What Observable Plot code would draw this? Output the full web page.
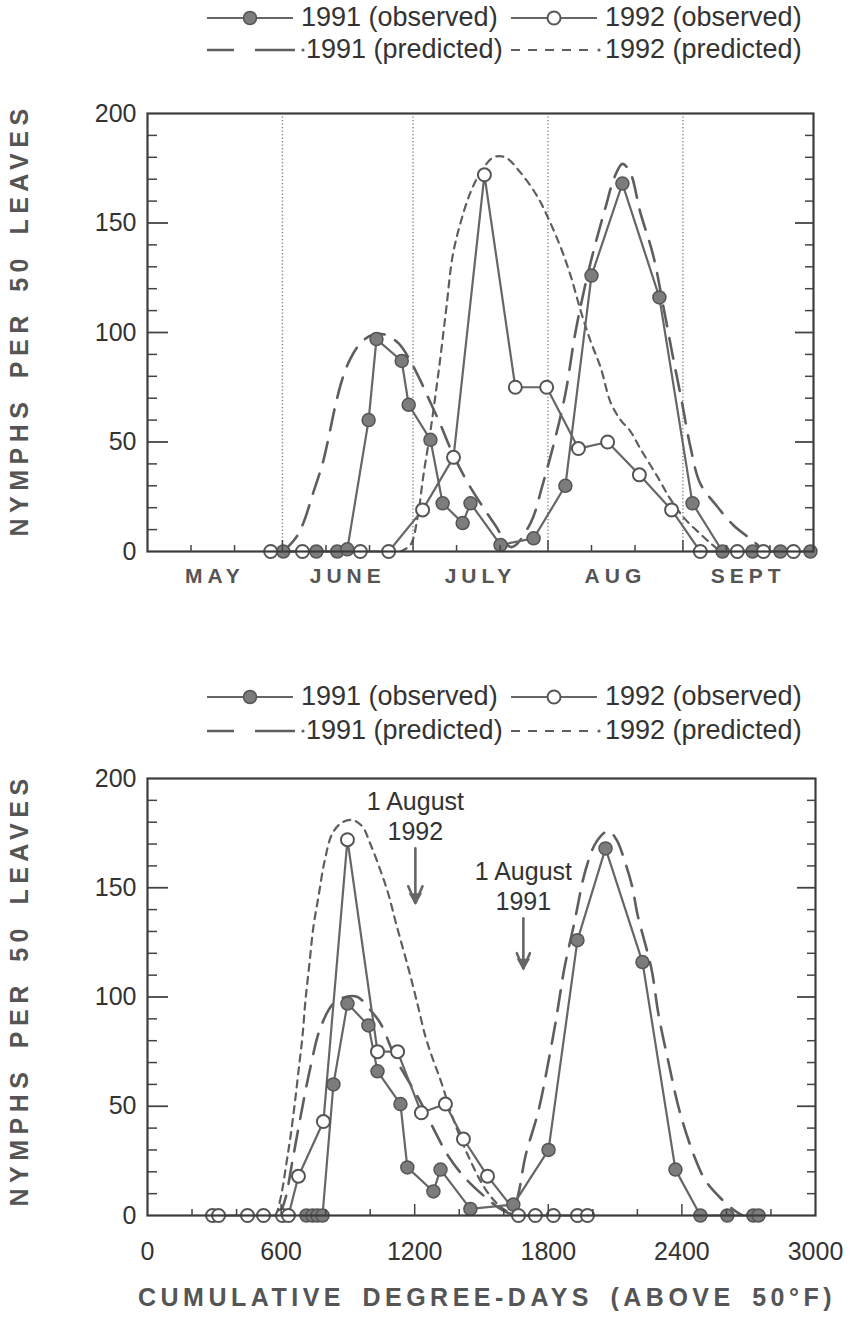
<!DOCTYPE html>
<html><head><meta charset="utf-8">
<script src="https://cdn.jsdelivr.net/npm/d3@7"></script>
<script src="https://cdn.jsdelivr.net/npm/@observablehq/plot@0.6"></script>
<style>
body{margin:0;background:#fff;font-family:"Liberation Sans",Arial,sans-serif;}
#wrap{position:relative;width:860px;height:1319px;overflow:hidden;background:#fff;}
.lg{position:absolute;font-size:27px;color:#333;white-space:nowrap;line-height:27px;}
#wrap svg.chart{position:absolute;left:0;}
.ytitle{position:absolute;white-space:nowrap;font-weight:bold;font-size:25px;color:#555;letter-spacing:5.5px;word-spacing:6px;transform:translate(-50%,-50%) rotate(-90deg);line-height:25px;}
.xtitle{position:absolute;white-space:nowrap;font-weight:bold;font-size:25px;color:#555;letter-spacing:4.5px;word-spacing:6px;transform:translate(-50%,-50%);line-height:25px;}
</style></head><body><div id="wrap"></div>
<script>
// ---------- tick labels / categories ----------
const months = ["MAY", "JUNE", "JULY", "AUG", "SEPT"];
const monthStartDays = [0, 31, 61, 92, 123, 153];          // days after 1 May
const dayTicks = [10, 20, 41, 51, 71, 81, 102, 112, 133, 143]; // 11th and 21st of each month
const yTickLabels = [0, 50, 100, 150, 200];
const ddTickLabels = [0, 600, 1200, 1800, 2400, 3000];
const ddMinorTicks = [200, 400, 800, 1000, 1400, 1600, 2000, 2200, 2600, 2800];
const seriesNames = ["1991 (observed)", "1992 (observed)", "1991 (predicted)", "1992 (predicted)"];

// ---------- top panel: calendar date (days after 1 May) ----------
const cal91Day = [31.2,38.8,43.6,45.9,50.8,52.6,58.4,60.0,65.0,67.8,72.4,74.2,81.1,88.7,96.0,102.0,109.1,117.6,125.2,132.1,139.0,145.4,152.3];
const cal91Obs = [0,0,0,1,60,97,87,67,51,22,13,22,3,6,30,126,168,116,22,0,0,0,0];
const cal92Day = [28.3,35.6,48.9,55.4,63.2,70.3,77.4,84.5,91.7,99.0,105.7,113.0,120.4,127.0,135.5,141.5,148.4];
const cal92Obs = [0,0,0,0,19,43,172,75,75,47,50,35,19,0,0,0,0];
const cal91PredDay = [31.2,34.0,35.8,38.1,40.2,41.6,43.2,44.8,46.6,48.9,51.7,54.7,57.7,60.4,62.7,65.0,67.3,69.6,73.1,76.5,79.9,83.6,88.0,90.7,93.7,96.0,98.3,100.6,102.7,105.2,107.3,109.1,110.9,113.2,116.2,118.5,120.6,122.7,124.7,127.0,130.7,134.6,139.0,141.3];
const cal91Pred = [0,6,13,27,40,52,67,79,88,95,99,99,95,87,78,68,58,47,33,22,12,2,13,30,52,72,100,122,139,157,171,177,173,155,135,112,90,69,48,31,21,12,5,1];
const cal92PredDay = [58.1,60.4,62.0,63.4,65.0,66.4,67.5,68.7,70.1,71.9,74.2,76.5,79.5,82.2,85.7,89.6,92.1,94.9,97.2,99.5,101.8,104.1,106.4,108.7,110.9,113.2,117.2,120.1,123.4,127.0,129.8,131.6];
const cal92Pred = [0,3,15,35,55,75,92,112,135,150,164,173,180,180,173,162,152,139,126,110,96,84,68,60,55,47,34,24,15,8,3,0];

// ---------- bottom panel: cumulative degree-days ----------
const dd91 = [714,741,763,786,835,898,992,1033,1136,1167,1284,1316,1450,1643,1801,1931,2057,2223,2371,2483,2604,2721,2744];
const dd91Obs = [0,0,0,0,60,97,87,66,51,22,11,21,3,5,30,126,168,116,21,0,0,0,0];
const dd92 = [292,319,449,521,606,633,678,790,898,1033,1123,1230,1338,1419,1527,1666,1742,1823,1931,1976];
const dd92Obs = [0,0,0,0,0,0,18,43,172,75,75,47,51,35,18,0,0,0,0,0];
const dd91PredDD = [593,620,651,687,732,777,835,889,943,1001,1046,1114,1181,1226,1293,1352,1428,1522,1585,1639,1666,1697,1756,1796,1837,1872,1917,1967,2016,2070,2106,2147,2178,2200,2263,2295,2340,2389,2456,2506,2573,2640,2672];
const dd91Pred = [0,8,25,45,68,86,97,100,100,94,88,72,60,52,38,27,17,8,3,1,10,27,48,68,91,113,134,158,171,176,172,161,150,138,113,92,70,48,27,16,8,2,0];
const dd92PredDD = [579,602,624,642,660,678,696,709,727,745,768,795,831,876,921,965,1001,1046,1082,1118,1172,1212,1248,1280,1316,1370,1437,1518,1585,1652];
const dd92Pred = [0,10,24,36,50,66,82,98,115,132,146,162,175,180,181,178,170,158,147,133,113,97,82,72,62,45,28,12,4,0];

// 1 August in degree-days for each year, with annotation text
const augustDD = [1203, 1688];
const augustText = ["1 August\n1992", "1 August\n1991"];
const augustTextY = [183, 151];
const augustArrowY1 = [168, 136];
const augustArrowY2 = [143, 113];

const yTitle = "NYMPHS PER 50 LEAVES";
const xTitle = "CUMULATIVE DEGREE-DAYS (ABOVE 50°F)";

// ---------- helpers ----------
const zip = (xs, ys) => xs.map((x, i) => ({x, y: ys[i]}));
const FONT = "Liberation Sans, Arial, Helvetica, sans-serif";
const LINE = "#666";
const yMinor = d3.range(10, 200, 10).filter(v => v % 50);
const yMajor = [50, 100, 150];

function panelMarks(o91, o92, p91, p92) {
  return [
    Plot.line(p91, {x: "x", y: "y", curve: "catmull-rom", stroke: "#5e5e5e", strokeWidth: 2.6, strokeDasharray: "21,12", clip: true}),
    Plot.line(p92, {x: "x", y: "y", curve: "catmull-rom", stroke: "#5e5e5e", strokeWidth: 2.2, strokeDasharray: "7,6", clip: true}),
    Plot.line(o91, {x: "x", y: "y", stroke: LINE, strokeWidth: 2.2}),
    Plot.line(o92, {x: "x", y: "y", stroke: LINE, strokeWidth: 2.2}),
    Plot.dot(o91, {x: "x", y: "y", r: 6.5, fill: "#7c7c7c", stroke: "#555", strokeWidth: 1.5}),
    Plot.dot(o92, {x: "x", y: "y", r: 6.5, fill: "white", stroke: "#555", strokeWidth: 2}),
    Plot.frame({stroke: "#3c3c3c", strokeWidth: 2.2}),
    Plot.axisY({anchor: "left", ticks: yTickLabels, tickSize: 0, tickPadding: 11, fontSize: 25, fill: "#333", label: null}),
    Plot.axisY({anchor: "right", frameAnchor: "left", ticks: yMinor, tickSize: 9, fill: "none", stroke: "#444", strokeWidth: 1.5, label: null}),
    Plot.axisY({anchor: "right", frameAnchor: "left", ticks: yMajor, tickSize: 20, fill: "none", stroke: "#444", strokeWidth: 1.8, label: null}),
    Plot.axisY({anchor: "left", frameAnchor: "right", ticks: yMinor, tickSize: 8, fill: "none", stroke: "#444", strokeWidth: 1.5, label: null}),
    Plot.axisY({anchor: "left", frameAnchor: "right", ticks: yMajor, tickSize: 18, fill: "none", stroke: "#444", strokeWidth: 1.8, label: null})
  ];
}

// ---------- top chart ----------
const topChart = Plot.plot({
  width: 860, height: 560,
  marginLeft: 147, marginRight: 47, marginTop: 43, marginBottom: 79,
  x: {domain: [monthStartDays[0], monthStartDays[monthStartDays.length - 1]]},
  y: {domain: [0, 200]},
  style: {fontFamily: FONT, background: "white", overflow: "visible"},
  marks: [
    Plot.ruleX(monthStartDays.slice(1, -1), {stroke: "#808080", strokeWidth: 1.4, strokeDasharray: "1.3,2.2"}),
    ...panelMarks(zip(cal91Day, cal91Obs), zip(cal92Day, cal92Obs), zip(cal91PredDay, cal91Pred), zip(cal92PredDay, cal92Pred)),
    Plot.axisX({anchor: "top", frameAnchor: "bottom", ticks: dayTicks, tickSize: 7, fill: "none", stroke: "#444", strokeWidth: 1.5, label: null}),
    Plot.axisX({anchor: "top", frameAnchor: "bottom", ticks: monthStartDays.slice(1, -1), tickSize: 12, fill: "none", stroke: "#444", strokeWidth: 1.5, label: null}),
    Plot.text(months, {x: (d, i) => (monthStartDays[i] + monthStartDays[i + 1]) / 2, frameAnchor: "bottom", dy: 31, fontSize: 21, fontWeight: "bold", fill: "#555"})
  ]
});
d3.select(topChart).selectAll("text").filter(function() { return months.includes(this.textContent); })
  .style("letter-spacing", "5px");

// ---------- bottom chart ----------
const ann = augustDD.map((d, i) => ({dd: d, text: augustText[i], ty: augustTextY[i], y1: augustArrowY1[i], y2: augustArrowY2[i]}));
const bottomChart = Plot.plot({
  width: 860, height: 569,
  marginLeft: 147, marginRight: 45, marginTop: 28, marginBottom: 104,
  x: {domain: [0, 3000]},
  y: {domain: [0, 200]},
  style: {fontFamily: FONT, background: "white", overflow: "visible"},
  marks: [
    ...panelMarks(zip(dd91, dd91Obs), zip(dd92, dd92Obs), zip(dd91PredDD, dd91Pred), zip(dd92PredDD, dd92Pred)),
    Plot.axisX({anchor: "bottom", ticks: ddTickLabels, tickFormat: d => String(d), tickSize: 0, tickPadding: 27, fontSize: 25, fill: "#333", label: null}),
    Plot.axisX({anchor: "top", frameAnchor: "bottom", ticks: ddMinorTicks, tickSize: 7, fill: "none", stroke: "#444", strokeWidth: 1.5, label: null}),
    Plot.axisX({anchor: "top", frameAnchor: "bottom", ticks: ddTickLabels.slice(1, -1), tickSize: 12, fill: "none", stroke: "#444", strokeWidth: 1.5, label: null}),
    Plot.text(ann, {x: "dd", y: "ty", text: "text", fontSize: 25, lineHeight: 1.2, fill: "#333"}),
    Plot.arrow(ann, {x1: "dd", x2: "dd", y1: "y1", y2: "y2", stroke: "#666", strokeWidth: 2.6, headLength: 20, headAngle: 46}),
    Plot.dot(ann, {x: "dd", y: "y2", symbol: "triangle", rotate: 180, r: 5, dy: -6, fill: "#666"})
  ]
});

// ---------- legends and titles (HTML) ----------
function symbolSVG(kind) {
  const s = `<svg width="100" height="30" viewBox="0 0 100 30" style="overflow:visible">`;
  if (kind === 0) return s + `<line x1="0" y1="15" x2="86" y2="15" stroke="${LINE}" stroke-width="2.2"/><circle cx="43" cy="15" r="6.5" fill="#7c7c7c" stroke="#555" stroke-width="1.5"/></svg>`;
  if (kind === 1) return s + `<line x1="0" y1="15" x2="86" y2="15" stroke="${LINE}" stroke-width="2.2"/><circle cx="43" cy="15" r="6.5" fill="white" stroke="#555" stroke-width="2"/></svg>`;
  if (kind === 2) return s + `<path d="M0,15H27M48,15H88" stroke="#5e5e5e" stroke-width="2.6" fill="none"/><circle cx="96" cy="15" r="1.6" fill="#5e5e5e"/></svg>`;
  return s + `<path d="M0,15H9M17,15H26M34,15H43M51,15H60M68,15H77" stroke="#5e5e5e" stroke-width="2.2" fill="none"/><circle cx="88" cy="15" r="1.6" fill="#5e5e5e"/></svg>`;
}
function addLegend(wrap, rowY) {
  const cols = [{sx: 207, tx: 301}, {sx: 511, tx: 605}];
  seriesNames.forEach((name, i) => {
    const col = cols[i % 2], row = Math.floor(i / 2);
    const cy = rowY[row];
    const sym = document.createElement("div");
    sym.style.cssText = `position:absolute;left:${col.sx}px;top:${cy - 15}px;width:100px;height:30px;`;
    sym.innerHTML = symbolSVG(i);
    wrap.appendChild(sym);
    const t = document.createElement("div");
    t.className = "lg";
    t.style.left = (col.tx + (row === 1 && i % 2 === 0 ? 5 : 0)) + "px";
    t.style.top = (cy - 14) + "px";
    t.textContent = name;
    wrap.appendChild(t);
  });
}
function addText(wrap, cls, text, x, y) {
  const d = document.createElement("div");
  d.className = cls;
  d.style.left = x + "px";
  d.style.top = y + "px";
  d.textContent = text;
  wrap.appendChild(d);
}

const wrap = document.getElementById("wrap");
addLegend(wrap, [18, 50]);
topChart.classList.add("chart");
topChart.style.top = "70px";
wrap.appendChild(topChart);
addLegend(wrap, [697, 731]);
bottomChart.classList.add("chart");
bottomChart.style.top = "750px";
wrap.appendChild(bottomChart);
addText(wrap, "ytitle", yTitle, 19, 320);
addText(wrap, "ytitle", yTitle, 19, 990);
addText(wrap, "xtitle", xTitle, 487, 1297);
</script></body></html>
